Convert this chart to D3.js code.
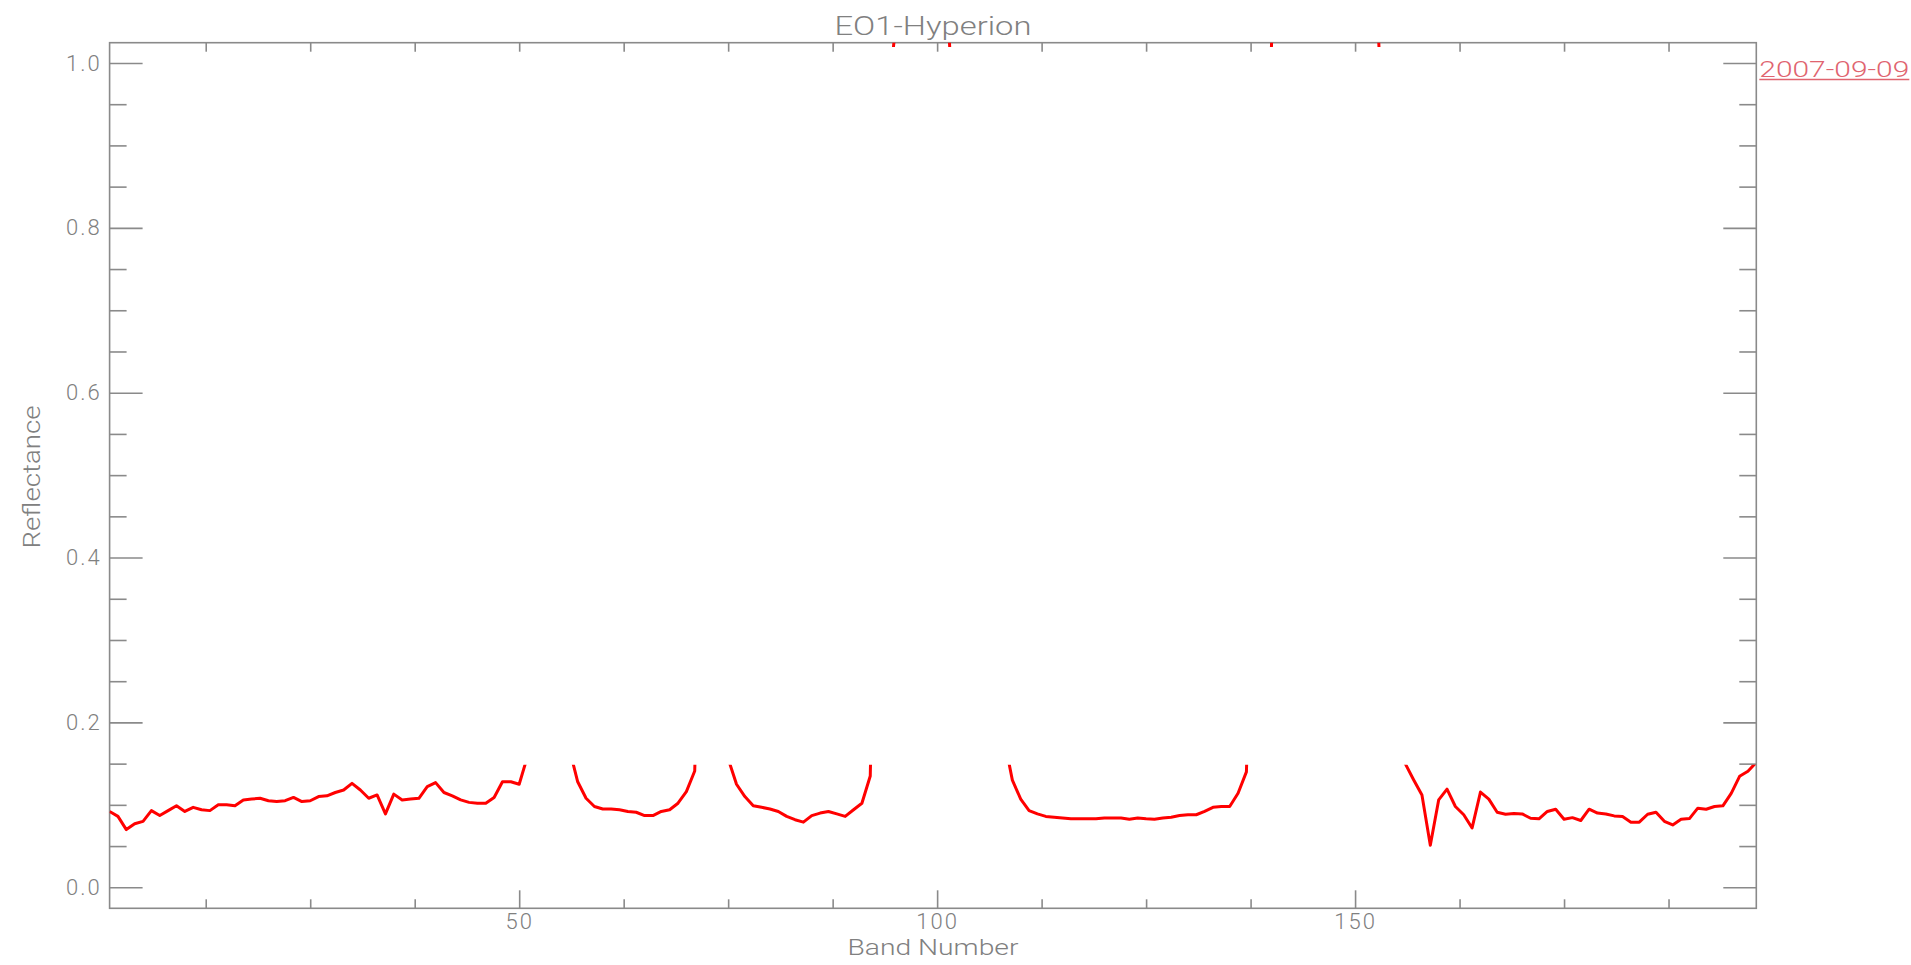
<!DOCTYPE html>
<html>
<head>
<meta charset="utf-8">
<script src="https://cdn.jsdelivr.net/npm/d3@7"></script>
<style>
  body { margin: 0; background: #fff; }
  text { font-family: Roboto, "DejaVu Sans", sans-serif; font-weight: 300; fill: #808080; }
</style>
</head>
<body>
<svg id="svg1" width="1911" height="965"></svg>
<script>
  // band numbers 1..198 (Hyperion good bands)
  var bands = d3.range(1, 199);

  // reflectance, one value per band
  var reflectance = [
    0.092, 0.086, 0.070, 0.077, 0.080, 0.093, 0.087, 0.093, 0.099, 0.092,
    0.097, 0.094, 0.093, 0.100, 0.100, 0.099, 0.106, 0.107, 0.108, 0.105,
    0.104, 0.105, 0.109, 0.104, 0.105, 0.110, 0.111, 0.115, 0.118, 0.126,
    0.118, 0.108, 0.112, 0.089, 0.113, 0.106, 0.107, 0.108, 0.122, 0.127,
    0.115, 0.111, 0.106, 0.103, 0.102, 0.102, 0.109, 0.128, 0.128, 0.125,
    0.159, 0.310, 0.460, 0.440, 0.290, 0.168, 0.128, 0.108, 0.098, 0.095,
    0.095, 0.094, 0.092, 0.091, 0.087, 0.087, 0.092, 0.094, 0.102, 0.116,
    0.141, 0.520, 0.710, 0.470, 0.156, 0.125, 0.110, 0.099, 0.097, 0.095,
    0.092, 0.086, 0.082, 0.079, 0.087, 0.090, 0.092, 0.089, 0.086, 0.094,
    0.102, 0.135, 0.620, 0.950, 1.040, 1.310, 1.520, 1.600, 1.430, 1.300,
    1.120, 0.920, 0.710, 0.550, 0.440, 0.340, 0.250, 0.181, 0.130, 0.107,
    0.093, 0.089, 0.086, 0.085, 0.084, 0.083, 0.083, 0.083, 0.083, 0.084,
    0.084, 0.084, 0.0825, 0.084, 0.083, 0.0825, 0.084, 0.085, 0.087, 0.088,
    0.088, 0.092, 0.097, 0.098, 0.098, 0.114, 0.140, 0.480, 0.740, 1.021,
    1.380, 1.620, 1.750, 1.820, 1.700, 1.660, 1.550, 1.480, 1.440, 1.360,
    1.280, 1.200, 0.990, 0.620, 0.310, 0.150, 0.1305, 0.112, 0.051, 0.106,
    0.119, 0.098, 0.088, 0.072, 0.1155, 0.107, 0.091, 0.0886, 0.0894, 0.089,
    0.0837, 0.083, 0.092, 0.0947, 0.0825, 0.0845, 0.081, 0.0947, 0.090, 0.089,
    0.0866, 0.0858, 0.079, 0.079, 0.0886, 0.091, 0.080, 0.0756, 0.0825, 0.0833,
    0.096, 0.0947, 0.098, 0.0988, 0.114, 0.1346, 0.1407, 0.1516
  ];

  var xMajorTicks = [50, 100, 150];
  var xMinorTicks = [12.5, 25, 37.5, 62.5, 75, 87.5, 112.5, 125, 137.5, 162.5, 175, 187.5];
  var yMajorTicks = [0, 0.2, 0.4, 0.6, 0.8, 1.0];
  var yMinorTicks = [0.05, 0.1, 0.15, 0.25, 0.3, 0.35, 0.45, 0.5, 0.55, 0.65, 0.7, 0.75, 0.85, 0.9, 0.95];

  var title = "EO1-Hyperion",
    xLabel = "Band Number",
    yLabel = "Reflectance",
    dateLabel = "2007-09-09";

  var data = bands.map(function (b, i) { return [b, reflectance[i]]; });

  var svg = d3.select("#svg1"),
    plotLeft = 109.6, plotRight = 1756.3, plotTop = 42.7, plotBottom = 908.3;

  var xScale = d3.scaleLinear().domain([1, 198]).range([plotLeft, plotRight]),
    yScale = d3.scaleLinear().domain([-0.0255, 1.0246]).range([plotBottom, plotTop]);

  var axisColor = "#8a8a8a";

  function styleAxis(g) {
    g.select(".domain").remove();
    g.selectAll(".tick line").attr("stroke", axisColor).attr("stroke-width", 1.6);
    g.selectAll(".tick text")
      .attr("fill", "#808080")
      .style("font-size", "22px")
      .style("font-family", "Roboto, 'DejaVu Sans', sans-serif")
      .style("font-weight", 300)
      .style("letter-spacing", "2px");
  }

  // bottom axis
  svg.append("g")
    .attr("transform", "translate(0," + plotBottom + ")")
    .call(d3.axisBottom(xScale).tickValues(xMinorTicks).tickSize(-9).tickSizeOuter(0).tickFormat(""))
    .call(styleAxis);
  svg.append("g")
    .attr("transform", "translate(0," + plotBottom + ")")
    .call(d3.axisBottom(xScale).tickValues(xMajorTicks).tickSize(-18).tickSizeOuter(0).tickPadding(5).tickFormat(d3.format("d")))
    .call(styleAxis);

  // top axis
  svg.append("g")
    .attr("transform", "translate(0," + plotTop + ")")
    .call(d3.axisTop(xScale).tickValues(xMinorTicks.concat(xMajorTicks)).tickSize(-9).tickSizeOuter(0).tickFormat(""))
    .call(styleAxis);

  // left axis
  svg.append("g")
    .attr("transform", "translate(" + plotLeft + ",0)")
    .call(d3.axisLeft(yScale).tickValues(yMinorTicks).tickSize(-17).tickSizeOuter(0).tickFormat(""))
    .call(styleAxis);
  svg.append("g")
    .attr("transform", "translate(" + plotLeft + ",0)")
    .call(d3.axisLeft(yScale).tickValues(yMajorTicks).tickSize(-33).tickSizeOuter(0).tickPadding(8).tickFormat(d3.format(".1f")))
    .call(styleAxis);

  // right axis
  svg.append("g")
    .attr("transform", "translate(" + plotRight + ",0)")
    .call(d3.axisRight(yScale).tickValues(yMinorTicks).tickSize(-17).tickSizeOuter(0).tickFormat(""))
    .call(styleAxis);
  svg.append("g")
    .attr("transform", "translate(" + plotRight + ",0)")
    .call(d3.axisRight(yScale).tickValues(yMajorTicks).tickSize(-33).tickSizeOuter(0).tickFormat(""))
    .call(styleAxis);

  // frame
  svg.append("rect")
    .attr("x", plotLeft)
    .attr("y", plotTop)
    .attr("width", plotRight - plotLeft)
    .attr("height", plotBottom - plotTop)
    .style("fill", "none")
    .style("stroke", axisColor)
    .style("stroke-width", 1.6);

  // only the low part of the plot and a thin strip under the top axis show the curve
  var clip = svg.append("clipPath").attr("id", "plotclip");
  clip.append("rect")
    .attr("x", plotLeft)
    .attr("y", yScale(0.1487))
    .attr("width", plotRight - plotLeft)
    .attr("height", plotBottom - yScale(0.1487));
  clip.append("rect")
    .attr("x", plotLeft)
    .attr("y", plotTop)
    .attr("width", plotRight - plotLeft)
    .attr("height", yScale(1.0195) - plotTop);

  var line = d3.line()
    .x(function (d) { return xScale(d[0]); })
    .y(function (d) { return yScale(d[1]); });

  svg.append("path")
    .datum(data)
    .attr("clip-path", "url(#plotclip)")
    .attr("d", line)
    .style("fill", "none")
    .style("stroke", "#ff0000")
    .style("stroke-width", 3)
    .style("stroke-linejoin", "round");

  // title
  svg.append("text")
    .attr("x", (plotLeft + plotRight) / 2)
    .attr("y", 35)
    .attr("text-anchor", "middle")
    .attr("textLength", 197)
    .attr("lengthAdjust", "spacingAndGlyphs")
    .style("font-size", "25px")
    .text(title);

  // X label
  svg.append("text")
    .attr("x", (plotLeft + plotRight) / 2)
    .attr("y", 955)
    .attr("text-anchor", "middle")
    .attr("textLength", 171)
    .attr("lengthAdjust", "spacingAndGlyphs")
    .style("font-size", "22px")
    .text(xLabel);

  // Y label
  svg.append("text")
    .attr("text-anchor", "middle")
    .attr("transform", "translate(40," + 477 + ")rotate(-90)")
    .attr("textLength", 143)
    .attr("lengthAdjust", "spacingAndGlyphs")
    .style("font-size", "23px")
    .text(yLabel);

  // date legend
  svg.append("text")
    .attr("x", plotRight + 3)
    .attr("y", 77)
    .attr("textLength", 150)
    .attr("lengthAdjust", "spacingAndGlyphs")
    .style("font-size", "22px")
    .style("fill", "#e0646f")
    .text(dateLabel);
  svg.append("line")
    .attr("x1", plotRight + 3)
    .attr("x2", plotRight + 153)
    .attr("y1", 79.5)
    .attr("y2", 79.5)
    .style("stroke", "#e0646f")
    .style("stroke-width", 1.5);
</script>
</body>
</html>
